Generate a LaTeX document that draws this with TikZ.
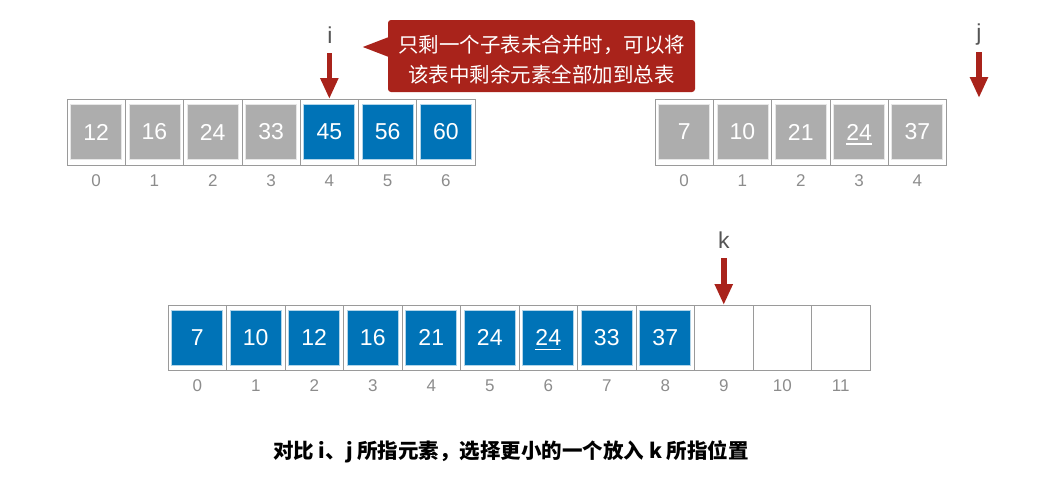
\documentclass[tikz,border=0pt]{standalone}
\usepackage{fontspec}
\setmainfont{Liberation Sans}
\newfontfamily\cjk{Noto Sans CJK SC}
\usetikzlibrary{arrows.meta}
\definecolor{cblue}{HTML}{0073B7}
\definecolor{cgray}{HTML}{ADADAD}
\definecolor{cred}{HTML}{A9231B}
\definecolor{cline}{HTML}{9A9A9A}
\definecolor{cidx}{HTML}{8C8C8C}
\definecolor{clab}{HTML}{555555}
\newcommand\myul[1]{\begingroup\setbox2=\hbox{#1}\rlap{\raisebox{-4.5pt}[0pt][0pt]{\rule{\wd2}{1.3pt}}}\box2\endgroup}
\begin{document}
\begin{tikzpicture}[x=1pt,y=-1pt,
  cellbox/.style={draw=cline,line width=0.8pt,minimum width=#1,minimum height=66pt,inner sep=0pt,outer sep=0pt},
  itembox/.style={draw=white!70!#1,line width=0.8pt,fill=#1,minimum width=51pt,minimum height=55pt,inner sep=0pt,text=white,font=\fontsize{23}{27}\selectfont},
  idx/.style={text=cidx,font=\fontsize{17}{20}\selectfont,inner sep=0pt},
  ptr/.style={text=clab,font=\fontsize{23}{27}\selectfont,inner sep=0pt},
  parrow/.style={draw=cred,line width=5.5pt,-{Triangle[width=17pt,length=21pt]}},
  callout/.style={fill=cred,rounded corners=3pt,minimum width=307pt,minimum height=72pt,inner sep=0pt},
  callouttext/.style={inner sep=0pt,text=white,align=center,font=\cjk\fontsize{20.5}{29.5}\selectfont},
  caption/.style={font=\cjk\bfseries\fontsize{20.5}{24}\selectfont,text=black}
]
\useasboundingbox (0,0) rectangle (1063,480);

% top-left array
\foreach \v/\c [count=\n from 0] in {12/cgray,16/cgray,24/cgray,33/cgray,45/cblue,56/cblue,60/cblue} {
  \node[cellbox=58.3pt] (a\n) at ({67+58.3*(\n+0.5)},132) {};
  \node[itembox=\c] (av\n) at (a\n) {\v};
  \node[idx] (ai\n) at ({67+58.3*(\n+0.5)},181) {\n};
}
% top-right array
\foreach \v/\c [count=\n from 0] in {7/cgray,10/cgray,21/cgray,{\myul{24}}/cgray,37/cgray} {
  \node[cellbox=58.3pt] (b\n) at ({655+58.3*(\n+0.5)},132) {};
  \node[itembox=\c] (bv\n) at (b\n) {\v};
  \node[idx] (bi\n) at ({655+58.3*(\n+0.5)},181) {\n};
}
% bottom array
\foreach \n in {0,...,11} {
  \node[cellbox=58.5pt,minimum height=65pt] (c\n) at ({168+58.5*(\n+0.5)},337.5) {};
  \node[idx] (ci\n) at ({168+58.5*(\n+0.5)},386) {\n};
}
\foreach \v [count=\n from 0] in {7,10,12,16,21,24,{\myul{24}},33,37} {
  \node[itembox=cblue] (cv\n) at (c\n) {\v};
}

% pointers
\node[ptr] (li) at (330,35) {i};
\draw[parrow] ([yshift=46pt]a4.north) -- (a4.north);
\coordinate (jt) at (979,98);
\node[ptr] (lj) at (979,35) {j};
\draw[parrow] ([yshift=46pt]jt) -- (jt);
\node[ptr] (lk) at (c9.north |- 0,240) {k};
\draw[parrow] ([yshift=47pt]c9.north) -- (c9.north);

% callout
\node[callout] (note) at (541.5,56) {};
\fill[cred] ([xshift=1pt,yshift=19pt]note.west) -- ([xshift=-25pt,yshift=9pt]note.west) -- ([xshift=1pt,yshift=-1pt]note.west) -- cycle;
\node[callouttext] (notetext) at ([yshift=-3.5pt]note.center) {只剩一个子表未合并时，可以将\\该表中剩余元素全部加到总表};

% caption
\node[caption] (cap) at (511,452) {对比 i、j 所指元素，选择更小的一个放入 k 所指位置};
\end{tikzpicture}
\end{document}
